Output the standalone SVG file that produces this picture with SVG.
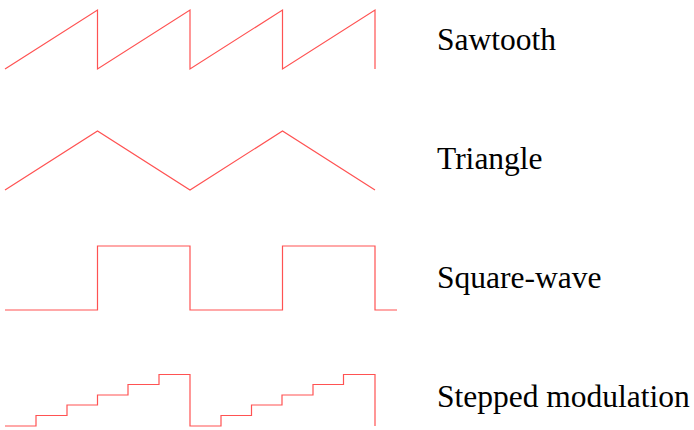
<svg xmlns="http://www.w3.org/2000/svg" width="694" height="430" viewBox="0 0 694 430">
  <style>
    .wave { fill: none; stroke: #ff5252; stroke-width: 1.2; stroke-linejoin: miter; }
    .label { font-family: "Liberation Serif", "Times New Roman", serif; font-size: 31.5px; fill: #000; }
  </style>
  <rect width="694" height="430" fill="#fff"/>

  <!-- Sawtooth -->
  <g id="sawtooth">
    <polyline class="wave" points="5,69 97.5,10 97.5,69 190,10 190,69 282.5,10 282.5,69 375,10 375,69"/>
    <text class="label" x="437" y="50">Sawtooth</text>
  </g>

  <!-- Triangle -->
  <g id="triangle">
    <polyline class="wave" points="5,190 97.5,131 190,190 282.5,131 375,190"/>
    <text class="label" x="437" y="169">Triangle</text>
  </g>

  <!-- Square wave -->
  <g id="square-wave">
    <polyline class="wave" points="5,310 97.5,310 97.5,246 190,246 190,310 282.5,310 282.5,246 375,246 375,310 397,310"/>
    <text class="label" x="437" y="288">Square-wave</text>
  </g>

  <!-- Stepped modulation -->
  <g id="stepped">
    <polyline class="wave" points="5,426 36,426 36,415.5 67,415.5 67,405 97.5,405 97.5,395 128,395 128,384.5 159,384.5 159,374.5 190,374.5 190,426 221,426 221,415.5 251.5,415.5 251.5,405 282,405 282,395 313,395 313,384.5 343.5,384.5 343.5,374.5 375,374.5 375,426"/>
    <text class="label" x="437" y="407">Stepped modulation</text>
  </g>
</svg>
